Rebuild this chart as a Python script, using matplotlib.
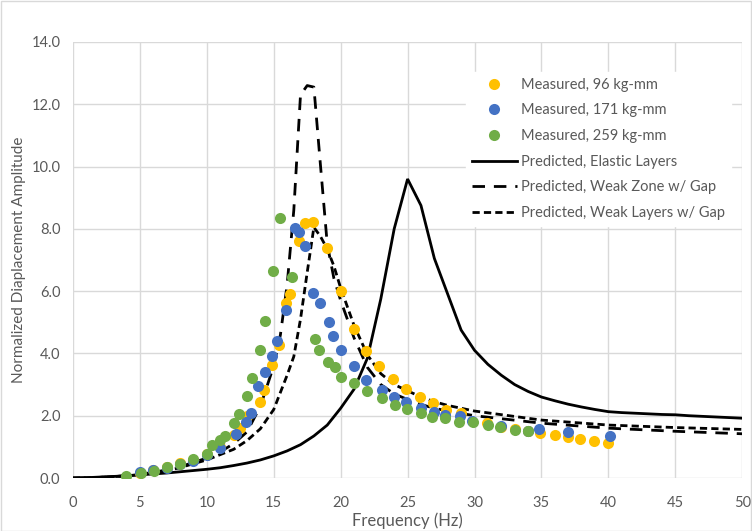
import numpy as np
import matplotlib
matplotlib.use("Agg")
from matplotlib import pyplot as plt
from matplotlib.patches import Rectangle

plt.rcParams["font.family"] = ["Lato", "DejaVu Sans"]

# measured points (Hz, normalized amplitude)
f_96 = [5, 6, 7, 8, 9, 10, 11, 12, 12.5, 13, 14, 14.3, 14.9, 15.4, 15.9, 16.2, 16.9, 17.3, 17.9,
        19.0, 20.0, 21.0, 21.9, 22.9, 23.9, 24.9, 25.9, 26.9, 27.9, 29.0, 30.9, 32.0, 33.0, 34.0,
        34.9, 36.0, 37.0, 37.9, 38.9, 40.0]
a_96 = [0.17, 0.25, 0.35, 0.47, 0.58, 0.78, 1.0, 1.38, 1.6, 2.0, 2.43, 2.83, 3.63, 4.27, 5.61, 5.91,
        7.61, 8.18, 8.23, 7.38, 6.0, 4.78, 4.09, 3.61, 3.18, 2.85, 2.60, 2.40, 2.18, 2.08, 1.76, 1.65,
        1.56, 1.50, 1.46, 1.38, 1.31, 1.25, 1.20, 1.11]

f_171 = [5, 6, 7, 8, 9, 10, 11, 12.2, 12.9, 13.3, 13.85, 14.35, 14.85, 15.25, 15.9, 16.6, 16.9, 17.3,
         17.9, 18.46, 19.1, 19.4, 20.0, 21.0, 21.9, 23.1, 24.0, 24.9, 26.0, 27.0, 27.8, 28.9, 29.8,
         32.0, 34.0, 34.85, 37.0, 40.1]
a_171 = [0.2, 0.25, 0.33, 0.44, 0.55, 0.75, 0.97, 1.40, 1.79, 2.08, 2.96, 3.39, 3.92, 4.41, 5.39,
         8.02, 7.89, 7.45, 5.95, 5.61, 5.02, 4.57, 4.11, 3.60, 3.15, 2.83, 2.61, 2.43, 2.24, 2.13,
         2.02, 2.0, 1.84, 1.67, 1.51, 1.56, 1.49, 1.36]

f_259 = [3.96, 5.08, 6.05, 7.0, 8.0, 8.95, 9.99, 10.37, 11.0, 11.36, 12.0, 12.4, 13.03, 13.4, 13.98,
         14.35, 14.97, 15.47, 16.34, 18.09, 18.41, 19.08, 19.58, 20.0, 21.03, 21.95, 23.07, 24.07,
         24.94, 25.99, 26.8, 27.8, 28.85, 29.85, 31.0, 31.9, 33.0, 34.0]
a_259 = [0.08, 0.15, 0.24, 0.34, 0.44, 0.60, 0.77, 1.06, 1.22, 1.35, 1.76, 2.06, 2.63, 3.20, 4.11,
         5.05, 6.65, 8.36, 6.44, 4.46, 4.11, 3.74, 3.55, 3.25, 3.04, 2.80, 2.56, 2.34, 2.21, 2.08,
         1.97, 1.92, 1.81, 1.81, 1.70, 1.65, 1.54, 1.51]

# predicted curves
f_el = list(range(0, 51))
a_el = [0, 0.01, 0.03, 0.05, 0.07, 0.1, 0.13, 0.16, 0.2, 0.24, 0.28, 0.33, 0.4, 0.48, 0.58, 0.71,
        0.87, 1.07, 1.35, 1.7, 2.24, 2.85, 3.85, 5.75, 8.0, 9.6, 8.75, 7.05, 5.9, 4.75, 4.1, 3.65,
        3.3, 3.0, 2.78, 2.6, 2.48, 2.37, 2.28, 2.2, 2.13, 2.1, 2.08, 2.06, 2.04, 2.03, 2.0, 1.98,
        1.96, 1.94, 1.92]

f_wz = [0, 2, 4, 5, 6, 7, 8, 9, 10, 11, 12, 13, 14, 15, 15.5, 16, 16.5, 17, 17.5, 18, 18.5, 19,
        19.5, 20, 21, 22, 23, 24, 25, 26, 27, 28, 30, 35, 40, 45, 50]
a_wz = [0, 0.02, 0.07, 0.12, 0.18, 0.26, 0.36, 0.5, 0.64, 0.84, 1.1, 1.48, 2.3, 3.6, 4.6, 6.2, 8.6,
        12.3, 12.6, 12.55, 10.0, 7.5, 6.4, 5.7, 4.5, 3.55, 3.0, 2.7, 2.52, 2.36, 2.24, 2.15, 2.0,
        1.76, 1.6, 1.5, 1.42]

f_wl = [0, 2, 4, 5, 6, 7, 8, 9, 10, 11, 12, 13, 14, 15, 16, 16.5, 17, 17.5, 18, 18.5, 19, 19.5,
        20, 21, 22, 23, 24, 25, 26, 27, 28, 30, 35, 40, 45, 50]
a_wl = [0, 0.02, 0.07, 0.11, 0.17, 0.24, 0.33, 0.46, 0.58, 0.75, 0.92, 1.2, 1.58, 2.2, 3.3, 3.9,
        5.1, 6.6, 8.05, 7.75, 7.35, 6.8, 6.1, 4.9, 3.95, 3.35, 3.0, 2.8, 2.6, 2.45, 2.33, 2.15,
        1.86, 1.7, 1.62, 1.56]

fig = plt.figure(figsize=(7.52, 5.31), dpi=100)
ax = fig.add_axes([0.097, 0.0998, 0.89, 0.8212])

l_el, = ax.plot(f_el, a_el, color="black", lw=2.0, solid_joinstyle="miter", label="Predicted, Elastic Layers")
l_wz, = ax.plot(f_wz, a_wz, color="black", lw=2.0, dashes=(4.5, 3.2), label="Predicted, Weak Zone w/ Gap")
l_wl, = ax.plot(f_wl, a_wl, color="black", lw=2.0, dashes=(2.6, 1.5), label="Predicted, Weak Layers w/ Gap")

ms = 8
p96, = ax.plot(f_96, a_96, "o", color="#FFC000", ms=ms, mec="none", label="Measured, 96 kg-mm")
p171, = ax.plot(f_171, a_171, "o", color="#4472C4", ms=ms, mec="none", label="Measured, 171 kg-mm")
p259, = ax.plot(f_259, a_259, "o", color="#70AD47", ms=ms, mec="none", label="Measured, 259 kg-mm")

ax.set_xlim(0, 50)
ax.set_ylim(0, 14)
ax.set_xticks(np.arange(0, 51, 5))
ax.set_yticks(np.arange(0, 14.1, 2))
ax.set_yticklabels([f"{v:.1f}" for v in np.arange(0, 14.1, 2)])
ax.grid(True, color="#D9D9D9", lw=1.0)
ax.set_axisbelow(True)
for s in ax.spines.values():
    s.set_visible(False)
ax.tick_params(length=0, labelsize=10.5, colors="#595959")
ax.tick_params(axis="x", pad=13)
ax.tick_params(axis="y", pad=9)
ax.set_xlabel("Frequency (Hz)", fontsize=12, color="#595959", labelpad=2)
ax.set_ylabel("Normalized Diaplacement Amplitude", fontsize=11, color="#595959", labelpad=4)

leg = ax.legend(handles=[p96, p171, p259, l_el, l_wz, l_wl], loc="upper left",
                bbox_to_anchor=(0.576, 0.948), fontsize=10.5, frameon=True, fancybox=False,
                framealpha=1, edgecolor="white", handlelength=3.1, handletextpad=0.3,
                labelspacing=0.8, borderpad=0.4)
for t in leg.get_texts():
    t.set_color("#595959")

fig.patches.append(Rectangle((0.5 / 752, 0.5 / 531), 1 - 1.5 / 752, 1 - 1.5 / 531, transform=fig.transFigure,
                             fill=False, edgecolor="#D9D9D9", lw=1))

fig.savefig("out.png", dpi=100)
plt.close(fig)
